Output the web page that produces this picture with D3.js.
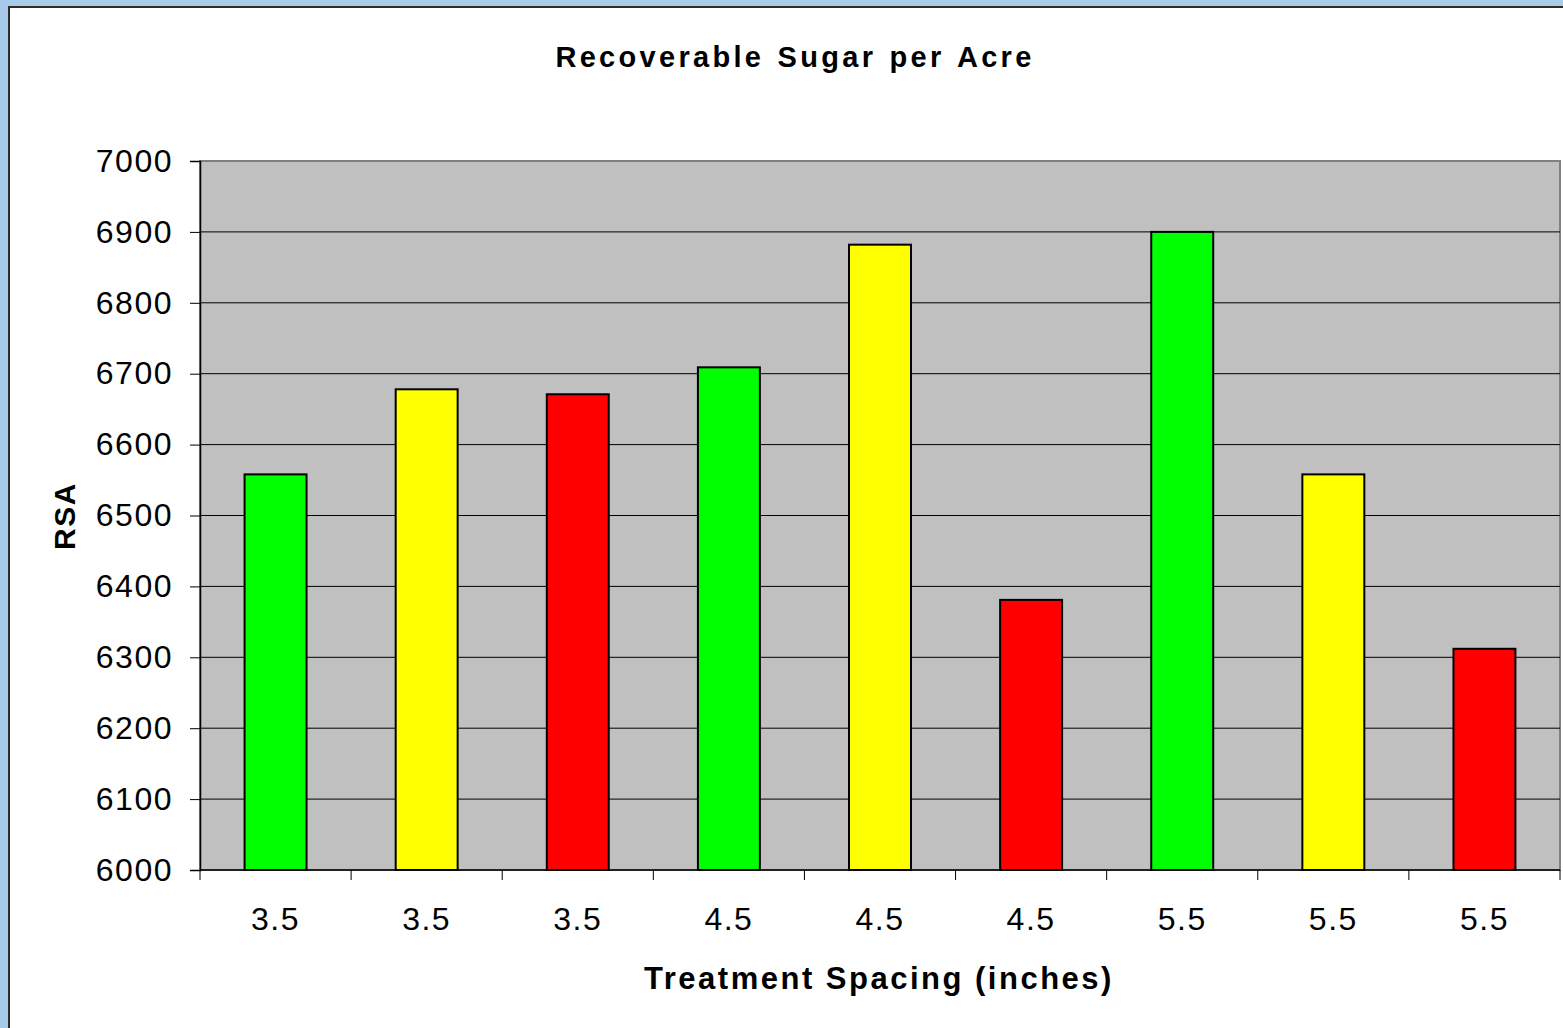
<!DOCTYPE html>
<html>
<head>
<meta charset="utf-8">
<script src="https://cdn.jsdelivr.net/npm/d3@7"></script>
<style>
  body { margin: 0; background: #a7cbe8; }
  svg { display: block; }
  text { font-family: "Liberation Sans", Arial, sans-serif; fill: #000; }
</style>
</head>
<body>
<svg id="chart" width="1563" height="1028"></svg>
<script>
const categories = ["3.5", "3.5", "3.5", "4.5", "4.5", "4.5", "5.5", "5.5", "5.5"];
const rsa = [6558, 6678, 6671, 6709, 6882, 6381, 6900, 6558, 6312];
const barColors = ["#00ff00", "#ffff00", "#ff0000", "#00ff00", "#ffff00", "#ff0000", "#00ff00", "#ffff00", "#ff0000"];
const yTicks = [6000, 6100, 6200, 6300, 6400, 6500, 6600, 6700, 6800, 6900, 7000];

const svg = d3.select("#chart");

// white chart panel on the blue slide
svg.append("rect")
  .attr("x", 9).attr("y", 7)
  .attr("width", 1563).attr("height", 1028)
  .attr("fill", "#fff")
  .attr("stroke", "#2b2b2b")
  .attr("stroke-width", 2);

const plot = { left: 200, top: 161, right: 1560, bottom: 870 };

const x = d3.scaleBand()
  .domain(d3.range(categories.length))
  .range([plot.left, plot.right])
  .paddingInner(0.59)
  .paddingOuter(0.295);

const xTicks = d3.scaleBand()
  .domain(d3.range(categories.length))
  .range([plot.left, plot.right]);

const y = d3.scaleLinear()
  .domain([6000, 7000])
  .range([plot.bottom, plot.top]);

svg.append("rect")
  .attr("x", plot.left).attr("y", plot.top)
  .attr("width", plot.right - plot.left)
  .attr("height", plot.bottom - plot.top)
  .attr("fill", "#c0c0c0")
  .attr("stroke", "#808080")
  .attr("stroke-width", 2);

// gridlines
svg.append("g")
  .selectAll("line")
  .data(yTicks.slice(1, -1))
  .join("line")
  .attr("x1", plot.left).attr("x2", plot.right)
  .attr("y1", d => y(d)).attr("y2", d => y(d))
  .attr("stroke", "#000")
  .attr("stroke-width", 1);

// bars
svg.append("g")
  .selectAll("rect")
  .data(rsa)
  .join("rect")
  .attr("x", (d, i) => x(i))
  .attr("y", d => y(d))
  .attr("width", x.bandwidth())
  .attr("height", d => plot.bottom - y(d))
  .attr("fill", (d, i) => barColors[i])
  .attr("stroke", "#000")
  .attr("stroke-width", 2);

// y axis
const yAxis = svg.append("g")
  .attr("transform", `translate(${plot.left},0)`)
  .call(d3.axisLeft(y).tickValues(yTicks).tickSize(10).tickPadding(17).tickFormat(d3.format("d")));
yAxis.select(".domain").attr("stroke", "#000").attr("stroke-width", 1.5);
yAxis.selectAll(".tick line").attr("stroke", "#000");
yAxis.selectAll("text")
  .style("font-size", "32px")
  .style("letter-spacing", "1.5px")
  .attr("fill", "#000");

// x axis: ticks sit at category boundaries
const xAxis = svg.append("g")
  .attr("transform", `translate(0,${plot.bottom})`);
xAxis.append("line")
  .attr("x1", plot.left).attr("x2", plot.right)
  .attr("stroke", "#000").attr("stroke-width", 1.5);
xAxis.selectAll(".xt")
  .data(d3.range(categories.length + 1))
  .join("line")
  .attr("class", "xt")
  .attr("x1", i => i < categories.length ? xTicks(i) : plot.right)
  .attr("x2", i => i < categories.length ? xTicks(i) : plot.right)
  .attr("y1", 0).attr("y2", 10)
  .attr("stroke", "#000");
xAxis.selectAll(".xl")
  .data(categories)
  .join("text")
  .attr("class", "xl")
  .attr("x", (d, i) => xTicks(i) + xTicks.bandwidth() / 2)
  .attr("y", 60)
  .attr("text-anchor", "middle")
  .style("font-size", "32px")
  .style("letter-spacing", "1.5px")
  .text(d => d);

// titles
svg.append("text")
  .attr("x", 795).attr("y", 67)
  .attr("text-anchor", "middle")
  .style("font-size", "29px")
  .style("font-weight", "bold")
  .style("letter-spacing", "3.3px")
  .style("word-spacing", "2px")
  .text("Recoverable Sugar per Acre");

svg.append("text")
  .attr("x", 879).attr("y", 989)
  .attr("text-anchor", "middle")
  .style("font-size", "31px")
  .style("font-weight", "bold")
  .style("letter-spacing", "2.5px")
  .text("Treatment Spacing (inches)");

svg.append("text")
  .attr("transform", "translate(75,516) rotate(-90)")
  .attr("text-anchor", "middle")
  .style("font-size", "30px")
  .style("font-weight", "bold")
  .style("letter-spacing", "1.5px")
  .text("RSA");
</script>
</body>
</html>
